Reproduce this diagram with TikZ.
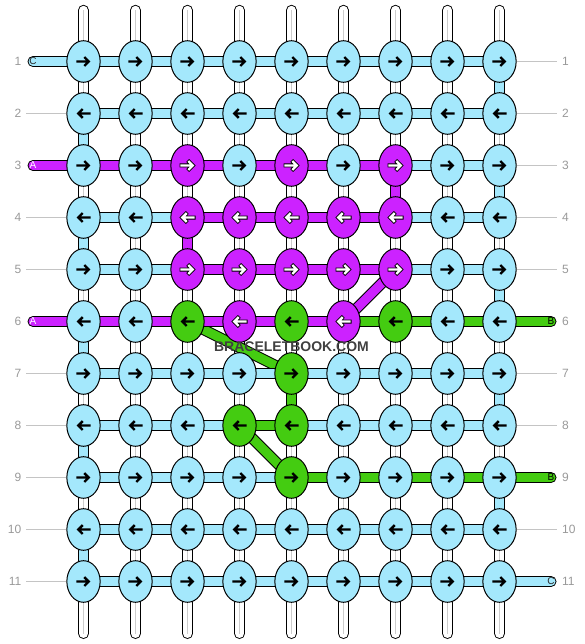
\documentclass[tikz,border=0pt]{standalone}
\usepackage{fontspec}
\setmainfont{Liberation Sans}
\usetikzlibrary{shapes.geometric}
\definecolor{knotb}{HTML}{A4E8FC}
\definecolor{knotp}{HTML}{CC22FF}
\definecolor{knotg}{HTML}{44CC11}
\colorlet{arrb}{black}\colorlet{arrp}{white}\colorlet{arrg}{black}
\colorlet{rimb}{knotb}\colorlet{rimp}{black}\colorlet{rimg}{knotg}
\definecolor{numgray}{HTML}{999999}
\definecolor{linegray}{HTML}{C4C4C4}
\pgfdeclarelayer{back}
\pgfsetlayers{back,main}
\tikzstyle{knot} = [ellipse, draw=black, line width=1pt, minimum width=33.3pt, minimum height=41.6pt, inner sep=0pt]
\tikzstyle{rownum} = [font=\fontsize{12}{12}\selectfont, text=numgray, inner ysep=0pt]
\tikzstyle{rowline} = [draw=linegray, line width=1pt]
\tikzstyle{tag} = [font=\fontsize{10}{10}\selectfont, inner sep=0pt]
\tikzstyle{twin} = [draw=black, double=white, double distance=9pt, line width=1pt, line cap=round]
\tikzstyle{seam} = [draw=gray!40, line width=1pt]
\tikzset{
  arrowfg/.initial=black,
  arrowbg/.initial=black,
  pointing/.style={path picture={
    \draw[color=\pgfkeysvalueof{/tikz/arrowbg}, line width=4pt, line cap=rect, line join=miter, shift={(path picture bounding box.center)}]
      ({-6pt*#1},0pt) -- ({4.4pt*#1},0pt) ({1.6pt*#1},-3.6pt) -- ({5.2pt*#1},0pt) -- ({1.6pt*#1},3.6pt);
    \draw[color=\pgfkeysvalueof{/tikz/arrowfg}, line width=2.4pt, line cap=rect, line join=miter, shift={(path picture bounding box.center)}]
      ({-6pt*#1},0pt) -- ({4.4pt*#1},0pt) ({1.6pt*#1},-3.6pt) -- ({5.2pt*#1},0pt) -- ({1.6pt*#1},3.6pt);
    }},
  strand/.style={draw=black, double=#1, double distance=9pt, line width=1pt},
  tail/.style={strand=#1, line cap=round}
}

\begin{document}
\begin{tikzpicture}[x=1pt, y=-1pt]
    \useasboundingbox (0,0) rectangle (584,644);
    \foreach \r/\row in {1/{b,b,b,b,b,b,b,b,b},
        2/{b,b,b,b,b,b,b,b,b},
        3/{b,b,p,b,p,b,p,b,b},
        4/{b,b,p,p,p,p,p,b,b},
        5/{b,b,p,p,p,p,p,b,b},
        6/{b,b,g,p,g,p,g,b,b},
        7/{b,b,b,b,g,b,b,b,b},
        8/{b,b,b,g,g,b,b,b,b},
        9/{b,b,b,b,g,b,b,b,b},
        10/{b,b,b,b,b,b,b,b,b},
        11/{b,b,b,b,b,b,b,b,b}} {
        \ifodd\r \def\way{1}\else \def\way{-1}\fi
        \foreach \k [count=\c] in \row
            \node[knot, fill=knot\k, arrowfg=arr\k, arrowbg=rim\k, pointing=\way] (k-\r-\c) at ({83.5+52*(\c-1)},{61.5+52*(\r-1)}) {};
    }
    \foreach \r in {1,...,11} {
        \node[rownum, anchor=east, inner xsep=4.5pt] (nl\r) at (26,{61.5+52*(\r-1)}) {\r};
        \node[rownum, anchor=west, inner xsep=5pt] (nr\r) at (557,{61.5+52*(\r-1)}) {\r};
    }
    \node[tag, text=black!85] (tagC1) at (33,61.5) {C};
    \node[tag, text=white] (tagA3) at (33,165.5) {A};
    \node[tag, text=white] (tagA6) at (33,321.5) {A};
    \node[tag] (tagB6) at (551,321.5) {B};
    \node[tag] (tagB9) at (551,477.5) {B};
    \node[tag, text=black!85] (tagC11) at (551,581.5) {C};
    \node[font=\bfseries\fontsize{14}{14}\selectfont, text=black!75] (wm) at (291.5,347) {BRACELETBOOK.COM};

    \begin{pgfonlayer}{back}
        \foreach \c in {1,...,9} {
            \coordinate (t\c) at ({83.5+52*(\c-1)},10.3);
            \coordinate (u\c) at ({83.5+52*(\c-1)},633.5);
            \draw[twin] (t\c) -- (u\c);
            \draw[seam] (t\c) -- (u\c);
        }
        \foreach \r/\c/\col in {2/1/b,4/1/b,6/1/b,8/1/b,10/1/b,1/9/b,3/9/b,5/9/b,7/9/b,9/9/b,3/7/p,4/3/p,7/5/g} {
            \pgfmathtruncatemacro\s{\r+1}
            \draw[strand=knot\col] (k-\r-\c.center) -- (k-\s-\c.center);
        }
        \draw[strand=knotp] (k-5-7.center) -- (k-6-6.center);
        \draw[strand=knotg] (k-6-3.center) -- (k-7-5.center);
        \draw[strand=knotg] (k-8-4.center) -- (k-9-5.center);
        \foreach \r/\segs in {1/{b,b,b,b,b,b,b,b},
            2/{b,b,b,b,b,b,b,b},
            3/{p,p,p,p,p,p,b,b},
            4/{b,b,p,p,p,p,b,b},
            5/{b,b,p,p,p,p,b,b},
            6/{p,p,p,p,p,g,g,g},
            7/{b,b,b,b,b,b,b,b},
            8/{b,b,b,g,b,b,b,b},
            9/{b,b,b,b,g,g,g,g},
            10/{b,b,b,b,b,b,b,b},
            11/{b,b,b,b,b,b,b,b}} {
            \foreach \s [count=\c] in \segs {
                \pgfmathtruncatemacro\d{\c+1}
                \draw[strand=knot\s] (k-\r-\c.center) -- (k-\r-\d.center);
            }
        }
        \draw[tail=knotb] (tagC1.center) -- (k-1-1.center);
        \draw[tail=knotp] (tagA3.center) -- (k-3-1.center);
        \draw[tail=knotp] (tagA6.center) -- (k-6-1.center);
        \draw[tail=knotg] (k-6-9.center) -- (tagB6.center);
        \draw[tail=knotg] (k-9-9.center) -- (tagB9.center);
        \draw[tail=knotb] (k-11-9.center) -- (tagC11.center);
        \foreach \r in {2,4,5,7,8,9,10,11}
            \draw[rowline] (nl\r) -- (k-\r-1);
        \foreach \r in {1,2,3,4,5,7,8,10}
            \draw[rowline] (k-\r-9) -- (nr\r);
    \end{pgfonlayer}
\end{tikzpicture}
\end{document}
